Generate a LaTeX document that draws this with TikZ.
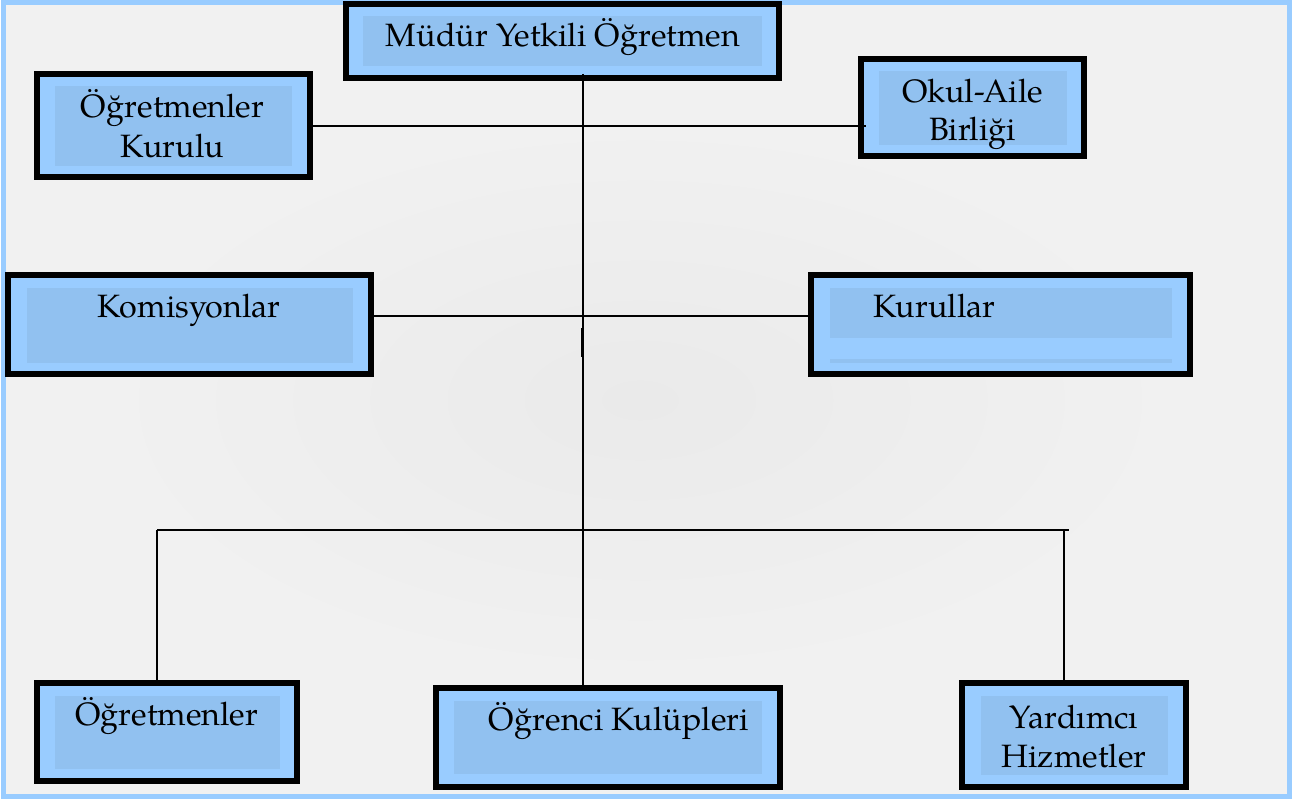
\documentclass[tikz,border=0pt]{standalone}
\usepackage{fontspec}
\setmainfont{TeX Gyre Pagella}
\usetikzlibrary{calc}
\definecolor{boxblue}{HTML}{99CCFF}
\definecolor{innerblue}{HTML}{91C1F0}
\definecolor{bgA}{HTML}{EAEAEA}
\definecolor{bgB}{HTML}{F1F1F1}
\definecolor{framec}{HTML}{99CCFF}
\tikzset{
  boxnode/.style={draw=black, line width=6pt, fill=boxblue, inner sep=0pt},
  innerrect/.style={fill=innerblue},
  lbl/.style={inner sep=0pt, anchor=base, font=\fontsize{32.3}{39}\selectfont},
  conn/.style={draw=black, line width=2pt},
}
\begin{document}
\begin{tikzpicture}[x=1pt,y=-1pt]
\useasboundingbox (0,0) rectangle (1299,802);
\fill[white] (0,0) rectangle (1299,802);
\fill[bgB] (3,2.5) rectangle (1289.5,796.5);
\shade[inner color=bgA, outer color=bgB] (100,120) rectangle (1180,680);
\draw[framec, line width=5pt] (3,2.5) rectangle (1289.5,796.5);

% coordinates for connectors
\coordinate (trunkTop) at (583,74);
\coordinate (midY) at (582,316);
\coordinate (busL) at (157,530);
\coordinate (busR) at (1069,530);
\coordinate (busY) at (1064,530);

% boxes
\node[boxnode, minimum width=344pt, minimum height=99pt] (kulup) at (608,737.5) {};
\node[boxnode, minimum width=363pt, minimum height=99pt] (kom) at (189.5,324.5) {};
\node[boxnode, minimum width=379pt, minimum height=99pt] (kurul) at (1000.5,324.5) {};
\node[boxnode, minimum width=273pt, minimum height=103pt] (ogk) at (173.5,125.5) {};
\node[boxnode, minimum width=223pt, minimum height=97pt] (okul) at (972.5,107.5) {};
\node[boxnode, minimum width=260pt, minimum height=98pt] (ogr) at (167,732) {};
\node[boxnode, minimum width=224pt, minimum height=104pt] (yard) at (1074,735) {};
\node[boxnode, minimum width=433pt, minimum height=74pt] (mudur) at (562.5,41) {};

% inner panels
\fill[innerrect] (363,16) rectangle (762,66);
\fill[innerrect] (55,86) rectangle (292,166);
\fill[innerrect] (879,71) rectangle (1067,145);
\fill[innerrect] (27,288) rectangle (353,363);
\fill[innerrect] (830,288) rectangle (1172,338);
\fill[innerrect] (830,359) rectangle (1172,363);
\fill[innerrect] (55,696) rectangle (280,769);
\fill[innerrect] (454,701) rectangle (762,774);
\fill[innerrect] (981,696) rectangle (1168,775);

% connectors
\draw[conn] (trunkTop) -- (trunkTop |- kulup.north);
\coordinate (okulIn) at ($(okul.west)+(8,0)$);
\draw[conn] ([yshift=-1pt]ogk.east) -- ([yshift=-1pt]ogk.east -| okulIn);
\draw[conn] (kom.east |- midY) -- (kurul.west |- midY);
\draw[conn] (busL) -- (busR);
\draw[conn] (busL) -- (busL |- ogr.north);
\draw[conn] (busY) -- (busY |- yard.north);
\draw[black, line width=2.6pt] (581.8,328) -- (581.8,357);

% labels
\node[lbl] (mudurT) at (563,47) {Müdür Yetkili Öğretmen};
\node[lbl] (ogkT1) at (172.5,118) {Öğretmenler};
\node[lbl] (ogkT2) at (172.5,158) {Kurulu};
\node[lbl] (okulT1) at (972.5,103) {Okul-Aile};
\node[lbl] (okulT2) at (972.5,141) {Birliği};
\node[lbl] (komT) at (189,318) {Komisyonlar};
\node[lbl] (kurulT) at (934.5,318) {Kurullar};
\node[lbl] (ogrT) at (166.7,725) {Öğretmenler};
\node[lbl] (kulupT) at (618.7,730.7) {Öğrenci Kulüpleri};
\node[lbl] (yardT1) at (1074,728) {Yardımcı};
\node[lbl] (yardT2) at (1074,767) {Hizmetler};
\end{tikzpicture}
\end{document}
